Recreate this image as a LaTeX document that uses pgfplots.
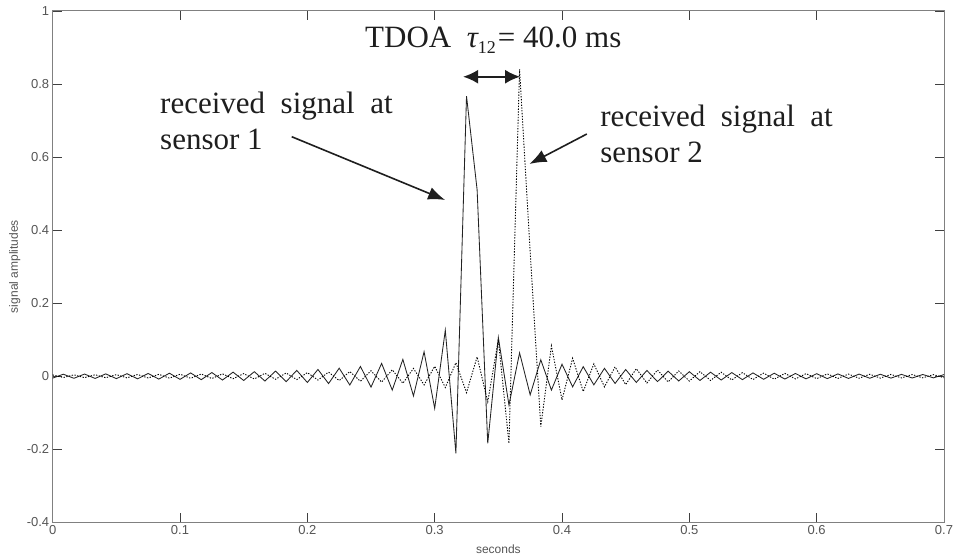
\documentclass[border=0pt]{standalone}
\usepackage{fontspec}
\setmainfont{Liberation Serif}
\newfontfamily\arial{Liberation Sans}
\usepackage{pgfplots}
\usepackage{pgfplotstable}
\pgfplotsset{compat=1.18}
\usetikzlibrary{arrows.meta,calc}
\definecolor{axgray}{RGB}{128,128,128}
\definecolor{lblgray}{RGB}{85,85,85}
\definecolor{sig}{RGB}{35,35,35}
\definecolor{txt}{RGB}{30,30,30}

\pgfplotstableread{
k s1 s2
0 -0.0053 0.0035
1 0.0055 -0.0036
2 -0.0057 0.0037
3 0.0059 -0.0039
4 -0.0061 0.0040
5 0.0064 -0.0042
6 -0.0066 0.0043
7 0.0069 -0.0045
8 -0.0072 0.0047
9 0.0075 -0.0049
10 -0.0079 0.0051
11 0.0082 -0.0053
12 -0.0086 0.0055
13 0.0090 -0.0057
14 -0.0095 0.0060
15 0.0100 -0.0063
16 -0.0105 0.0065
17 0.0111 -0.0069
18 -0.0117 0.0072
19 0.0124 -0.0076
20 -0.0132 0.0079
21 0.0140 -0.0084
22 -0.0150 0.0088
23 0.0160 -0.0093
24 -0.0172 0.0099
25 0.0186 -0.0105
26 -0.0202 0.0112
27 0.0220 -0.0119
28 -0.0241 0.0128
29 0.0267 -0.0137
30 -0.0298 0.0148
31 0.0350 -0.0161
32 -0.0380 0.0176
33 0.0460 -0.0193
34 -0.0540 0.0213
35 0.0670 -0.0238
36 -0.0880 0.0269
37 0.1260 -0.0309
38 -0.2110 0.0370
39 0.7670 -0.0450
40 0.5100 0.0530
41 -0.1840 -0.0700
42 0.1060 0.1000
43 -0.0790 -0.1840
44 0.0640 0.8400
45 -0.0510 0.3400
46 0.0450 -0.1380
47 -0.0380 0.0830
48 0.0328 -0.0650
49 -0.0291 0.0490
50 0.0261 -0.0420
51 -0.0237 0.0338
52 0.0216 -0.0292
53 -0.0198 0.0256
54 0.0183 -0.0228
55 -0.0170 0.0205
56 0.0158 -0.0186
57 -0.0148 0.0169
58 0.0138 -0.0156
59 -0.0130 0.0144
60 0.0123 -0.0133
61 -0.0116 0.0124
62 0.0110 -0.0116
63 -0.0104 0.0109
64 0.0099 -0.0102
65 -0.0094 0.0097
66 0.0090 -0.0091
67 -0.0085 0.0086
68 0.0082 -0.0082
69 -0.0078 0.0078
70 0.0075 -0.0074
71 -0.0072 0.0071
72 0.0069 -0.0067
73 -0.0066 0.0064
74 0.0063 -0.0061
75 -0.0061 0.0059
76 0.0058 -0.0056
77 -0.0056 0.0054
78 0.0054 -0.0052
79 -0.0052 0.0050
80 0.0050 -0.0048
81 -0.0049 0.0046
82 0.0047 -0.0044
83 -0.0045 0.0043
84 0.0044 -0.0041
}\data

\begin{document}
\begin{tikzpicture}
\begin{axis}[
  scale only axis, width=891.3pt, height=511.3pt,
  xmin=0, xmax=0.7, ymin=-0.4, ymax=1,
  xtick={0,0.1,0.2,0.3,0.4,0.5,0.6,0.7},
  xticklabels={0,0.1,0.2,0.3,0.4,0.5,0.6,0.7},
  ytick={-0.4,-0.2,0,0.2,0.4,0.6,0.8,1},
  yticklabels={-0.4,-0.2,0,0.2,0.4,0.6,0.8,1},
  tick align=inside, major tick length=9pt,
  axis line style={axgray, line width=1pt},
  tick style={black!75, line width=0.7pt},
  ticklabel style={font=\arial\fontsize{13}{13}\selectfont, text=lblgray},
  xlabel={seconds}, ylabel={signal amplitudes},
  every axis x label/.style={at={(axis description cs:0.5,-0.0522)}, anchor=center},
  every axis y label/.style={at={(axis description cs:-0.0426,0.5)}, rotate=90, anchor=center},
  label style={font=\arial\fontsize{12}{12}\selectfont, text=lblgray},
  clip=false,
]
\addplot[sig, line width=0.85pt] table[x expr=\thisrow{k}/120, y=s1]{\data};
\addplot[black, line width=0.9pt, dash pattern=on 1.3pt off 1.5pt] table[x expr=\thisrow{k}/120, y=s2]{\data};

\coordinate (sw) at (rel axis cs:0,0);
\coordinate (ne) at (rel axis cs:1,1);

\node[anchor=base west, inner sep=0, text=txt, font=\fontsize{31}{31}\selectfont] at (axis cs:0.2453,0.9006)
  {TDOA\ \ {\itshape τ}\raisebox{-6pt}{\fontsize{18}{18}\selectfont 12}\hspace{2pt}= 40.0 ms};
\draw[txt, line width=2pt, {Latex[length=15pt,width=14pt]}-{Latex[length=15pt,width=14pt]}]
  (axis cs:0.3223,0.820) -- (axis cs:0.3671,0.820);

\node[anchor=base west, inner sep=0, text=txt, font=\fontsize{31}{31}\selectfont] at (axis cs:0.0843,0.7206) {received\ \ signal\ \ at};
\node[anchor=base west, inner sep=0, text=txt, font=\fontsize{31}{31}\selectfont] at (axis cs:0.0843,0.6221) {sensor 1};
\node[anchor=base west, inner sep=0, text=txt, font=\fontsize{31}{31}\selectfont] at (axis cs:0.4300,0.6850) {received\ \ signal\ \ at};
\node[anchor=base west, inner sep=0, text=txt, font=\fontsize{31}{31}\selectfont] at (axis cs:0.4300,0.5838) {sensor 2};

\draw[txt, line width=1.6pt, -{Latex[length=17pt,width=13pt]}] (axis cs:0.1877,0.6558) -- (axis cs:0.3082,0.4825);
\draw[txt, line width=1.6pt, -{Latex[length=17pt,width=13pt]}] (axis cs:0.4195,0.6632) -- (axis cs:0.3744,0.5810);
\end{axis}
\pgfresetboundingbox
\path[use as bounding box] ($(sw)+(-52.7pt,-36.7pt)$) rectangle ($(ne)+(10pt,11pt)$);
\end{tikzpicture}
\end{document}
